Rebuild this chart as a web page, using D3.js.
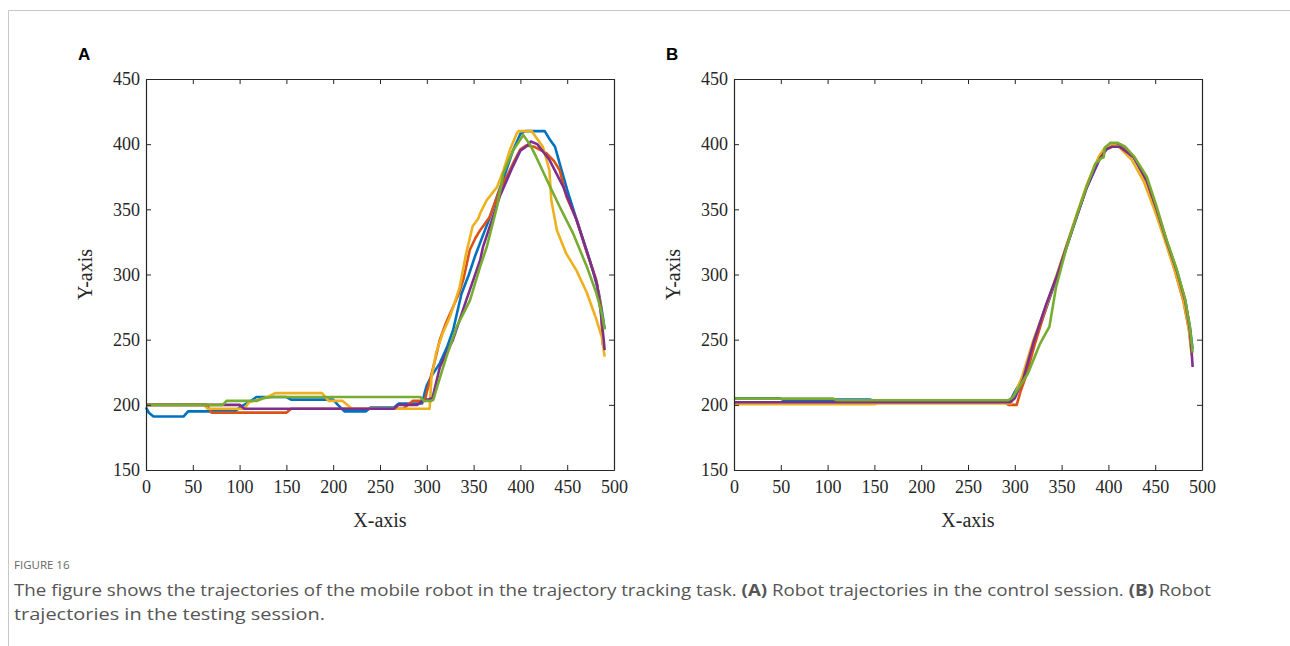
<!DOCTYPE html>
<html>
<head>
<meta charset="utf-8">
<script src="https://cdn.jsdelivr.net/npm/d3@7"></script>
<style>
  body { margin: 0; background: #fff; }
  svg { display: block; }
</style>
</head>
<body>
<svg width="1290" height="646"></svg>
<script>
// axis ticks
const xTicks = [0, 50, 100, 150, 200, 250, 300, 350, 400, 450, 500];
const yTicks = [150, 200, 250, 300, 350, 400, 450];

// MATLAB default line colours, in draw order
const seriesColors = ['#0072BD', '#D95319', '#EDB120', '#7E2F8E', '#77AC30'];

// Panel A - control session trajectories [x, y]
const aBlue = [[0,198],[3,194],[8,191],[40,191],[45,195],[95,195],[100,198],[110,202],[118,206],[150,206],[155,204],[200,204],[205,200],[212,195],[235,195],[240,198],[265,198],[270,201],[295,201],[298,210],[300,215],[305,222],[314,232],[322,245],[328,257],[337,285],[345,300],[352,315],[360,330],[368,345],[376,362],[384,378],[392,395],[400,408],[405,410],[426,410],[431,404],[437,398],[442,385],[450,365],[460,342],[470,320],[478,302],[484,285],[488,268],[490,258]];
const aOrange = [[0,200],[65,200],[70,194],[150,194],[155,197],[275,197],[280,200],[285,203],[298,203],[300,210],[302,215],[308,232],[314,250],[320,262],[328,275],[334,285],[339,296],[346,319],[352,328],[357,334],[367,344],[378,365],[386,376],[392,385],[400,396],[406,399],[415,398],[428,393],[436,387],[442,380],[449,360],[460,342],[470,319],[481,296],[486,275],[488,246]];
const aYellow = [[0,200],[62,200],[66,197],[105,197],[110,202],[130,206],[138,209],[188,209],[195,203],[210,203],[215,200],[220,197],[303,197],[305,221],[310,240],[317,255],[325,268],[335,290],[342,316],[349,337],[355,343],[357,347],[364,357],[375,367],[382,380],[389,396],[396,408],[398,410],[412,410],[424,398],[431,380],[433,357],[439,334],[449,316],[460,303],[471,286],[480,268],[487,252],[490,237]];
const aPurple = [[0,200],[100,200],[105,197],[265,197],[270,200],[290,200],[295,203],[306,205],[314,229],[328,250],[342,280],[357,311],[360,321],[378,360],[392,383],[400,395],[406,398],[411,402],[418,400],[431,388],[446,367],[460,342],[474,311],[482,292],[486,270],[489,250],[490,242]];
const aGreen = [[0,200],[82,200],[86,203],[118,203],[125,205],[135,206],[293,206],[297,203],[305,203],[307,204],[312,216],[321,237],[332,260],[346,280],[357,306],[364,321],[375,352],[382,378],[392,395],[403,407],[410,400],[417,390],[432,367],[442,352],[456,332],[471,306],[481,286],[487,270],[490,258]];

// Panel B - testing session trajectories [x, y]
const bBlue = [[0,205],[49,205],[52,204],[145,204],[148,203.5],[224,203.5],[227,203],[295,203],[300,210],[309,221],[321,249],[334,275],[345,298],[355,320],[366,344],[377,367],[391,390],[398,397],[405,400],[412,399],[427,390],[441,372],[452,349],[462,326],[473,303],[482,280],[487,260],[490,243]];
const bOrange = [[0,202],[290,202],[293,200],[302,200],[306,210],[312,222],[322,248],[334,276],[345,299],[355,321],[366,345],[377,368],[390,390],[398,398],[406,399],[414,398],[428,389],[441,371],[451,349],[461,326],[471,303],[480,280],[486,258],[489,240]];
const bYellow = [[0,200.5],[150,200.5],[153,201],[296,201],[300,208],[308,222],[320,250],[333,275],[344,298],[355,322],[366,346],[377,369],[390,391],[397,398],[404,400],[411,398],[425,388],[438,371],[449,350],[460,327],[471,303],[480,281],[486,258],[489,238]];
const bPurple = [[0,202],[295,202],[300,205],[309,220],[320,248],[333,276],[345,299],[355,321],[366,344],[377,367],[391,389],[398,396],[404,398],[412,398],[427,390],[441,372],[452,349],[462,326],[473,303],[482,280],[487,258],[489,240],[490,229]];
const bGreen = [[0,204.8],[106,204.8],[110,203.5],[293,203.5],[298,206],[306,215],[314,224],[327,247],[337,260],[344,290],[355,320],[366,345],[377,368],[386,385],[392,389],[395,390],[396,397],[402,401],[410,401],[418,398],[428,390],[441,375],[452,351],[462,327],[473,304],[482,281],[487,260],[490,240]];

const panels = [
  { label: 'A', left: 146, series: [aBlue, aOrange, aYellow, aPurple, aGreen] },
  { label: 'B', left: 734, series: [bBlue, bOrange, bYellow, bPurple, bGreen] }
];

const plotW = 468;
const plotTop = 79;
const plotBottom = 470;
const tickLen = 5;
const serif = '"Liberation Serif", "Times New Roman", serif';

const svg = d3.select('svg');

// page frame
svg.append('line')
  .attr('x1', 8.5).attr('y1', 10.5).attr('x2', 1290).attr('y2', 10.5)
  .attr('stroke', '#c8c8c8').attr('stroke-width', 1);
svg.append('line')
  .attr('x1', 8.5).attr('y1', 10.5).attr('x2', 8.5).attr('y2', 646)
  .attr('stroke', '#c8c8c8').attr('stroke-width', 1);

const drawPanel = (p) => {
  const x = d3.scaleLinear().domain([0, 500]).range([p.left, p.left + plotW]);
  const y = d3.scaleLinear().domain([150, 450]).range([plotBottom, plotTop]);

  const g = svg.append('g');

  // trajectories
  const line = d3.line().x(d => x(d[0])).y(d => y(d[1]));
  g.selectAll('path.traj').data(p.series)
    .enter().append('path')
      .attr('class', 'traj')
      .attr('d', line)
      .attr('fill', 'none')
      .attr('stroke', (d, i) => seriesColors[i])
      .attr('stroke-width', 2.6)
      .attr('stroke-linejoin', 'round');

  // axes, ticks inside, box on
  const bottom = g.append('g').attr('transform', `translate(0,${plotBottom})`)
    .call(d3.axisBottom(x).tickValues(xTicks).tickSizeInner(-tickLen).tickSizeOuter(0).tickPadding(10));
  const top = g.append('g').attr('transform', `translate(0,${plotTop})`)
    .call(d3.axisTop(x).tickValues(xTicks).tickSizeInner(-tickLen).tickSizeOuter(0).tickFormat(''));
  const left = g.append('g').attr('transform', `translate(${p.left},0)`)
    .call(d3.axisLeft(y).tickValues(yTicks).tickSizeInner(-tickLen).tickSizeOuter(0).tickPadding(6));
  const right = g.append('g').attr('transform', `translate(${p.left + plotW},0)`)
    .call(d3.axisRight(y).tickValues(yTicks).tickSizeInner(-tickLen).tickSizeOuter(0).tickFormat(''));

  [bottom, top, left, right].forEach(a => {
    a.select('.domain').attr('stroke', '#262626').attr('stroke-width', 1.2);
    a.selectAll('.tick line').attr('stroke', '#262626').attr('stroke-width', 1);
    a.selectAll('.tick text')
      .attr('fill', '#262626')
      .style('font-family', serif)
      .style('font-size', '18px');
  });

  // axis titles
  g.append('text')
    .attr('x', p.left + plotW / 2).attr('y', 527)
    .attr('text-anchor', 'middle')
    .style('font-family', serif).style('font-size', '20px')
    .attr('fill', '#262626')
    .text('X-axis');
  g.append('text')
    .attr('transform', `translate(${p.left - 54},${(plotTop + plotBottom) / 2}) rotate(-90)`)
    .attr('text-anchor', 'middle')
    .style('font-family', serif).style('font-size', '20px')
    .attr('fill', '#262626')
    .text('Y-axis');

  // panel letter
  g.append('text')
    .attr('x', p.left - 68).attr('y', 60)
    .style('font-family', '"Liberation Sans", Arial, sans-serif')
    .style('font-size', '17px').style('font-weight', 'bold')
    .attr('fill', '#000')
    .text(p.label);
};

panels.forEach(drawPanel);

// caption
const capFont = '"Open Sans", "Noto Sans", sans-serif';
svg.append('text')
  .attr('x', 14).attr('y', 569)
  .style('font-family', capFont).style('font-size', '11.5px')
  .attr('fill', '#666')
  .text('FIGURE 16');

const cap1 = svg.append('text')
  .attr('x', 14).attr('y', 596)
  .style('font-family', capFont).style('font-size', '16px')
  .attr('fill', '#555');
cap1.append('tspan').text('The figure shows the trajectories of the mobile robot in the trajectory tracking task. ');
cap1.append('tspan').style('font-weight', 'bold').text('(A)');
cap1.append('tspan').text(' Robot trajectories in the control session. ');
cap1.append('tspan').style('font-weight', 'bold').text('(B)');
cap1.append('tspan').text(' Robot');
cap1.attr('textLength', 1197).attr('lengthAdjust', 'spacingAndGlyphs');

svg.append('text')
  .attr('x', 14).attr('y', 620)
  .style('font-family', capFont).style('font-size', '16px')
  .attr('fill', '#555')
  .attr('textLength', 311).attr('lengthAdjust', 'spacingAndGlyphs')
  .text('trajectories in the testing session.');
</script>
</body>
</html>
